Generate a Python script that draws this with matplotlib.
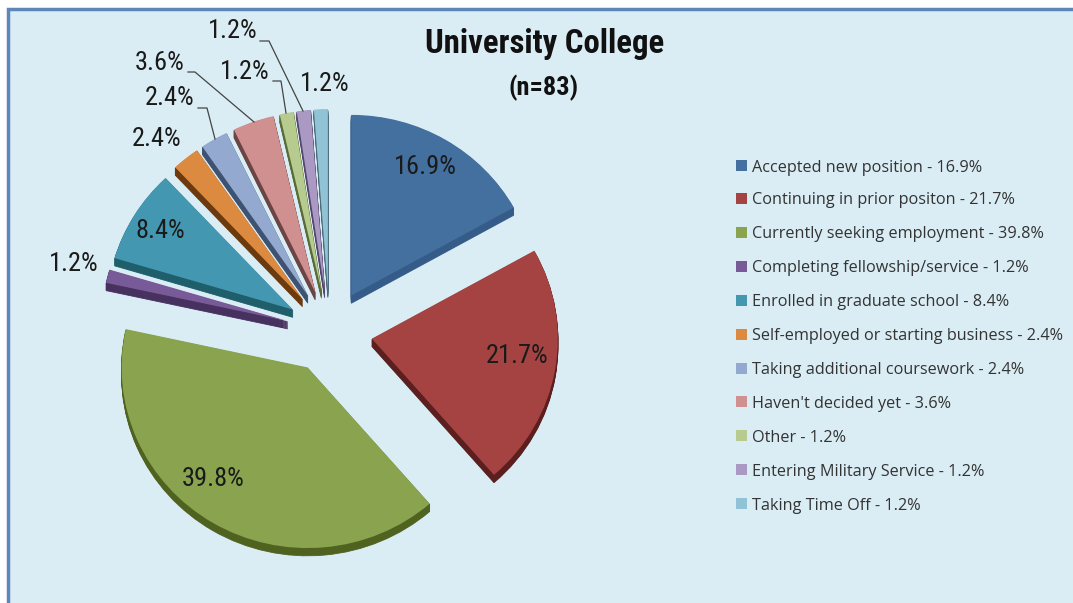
import matplotlib
matplotlib.use("Agg")
import matplotlib.pyplot as plt
from matplotlib.patches import Rectangle

# share of respondents per outcome
categories = ["Accepted new position", "Continuing in prior positon", "Currently seeking employment",
              "Completing fellowship/service", "Enrolled in graduate school",
              "Self-employed or starting business", "Taking additional coursework",
              "Haven't decided yet", "Other", "Entering Military Service", "Taking Time Off"]
values = [16.9, 21.7, 39.8, 1.2, 8.4, 2.4, 2.4, 3.6, 1.2, 1.2, 1.2]
colors = ["#44709F", "#A44342", "#89A34F", "#785A99", "#4497B0", "#DD8A41",
          "#94A9CF", "#D09090", "#B7CB8F", "#A999C3", "#90C3D5"]
sides = ["#355C88", "#5A1F1E", "#50621F", "#47315F", "#1F5F6C", "#6B3A0E",
         "#3E5272", "#6A4544", "#5A6B3A", "#55466C", "#4A6A78"]
title = "University College"
subtitle = "(n=83)"

W, H = 1073, 603
BG = "#DAEDF4"
NARROW = ["Roboto Condensed", "DejaVu Sans"]

fig = plt.figure(figsize=(W / 100, H / 100), dpi=100, facecolor="white")

# background and all text/legend, in pixel coordinates
ax = fig.add_axes([0, 0, 1, 1], zorder=0)
ax.set_xlim(0, W)
ax.set_ylim(0, H)
ax.axis("off")
ax.add_patch(Rectangle((8, -5), W, H - 4, fc=BG, ec="#5F86BA", lw=2.5, zorder=0))

# pie gets its own axes so it can be squashed a little (the 3D tilt)
tilt = 0.971
cx, cy_px, r = 329.5, 331.5, 186
pie_ax = fig.add_axes([0, 0, 1, 1], zorder=1)
pie_ax.patch.set_alpha(0)

# pie() adds explode in data units, here those are pixels
explode = [43] * len(values)

# fake 3D: stack of dark pies shifted downwards, then the top face
for d in range(8, 0, -1):
    wedges, _ = pie_ax.pie(values, colors=sides, explode=explode, startangle=90, counterclock=False,
                           center=(cx, -d), radius=r, frame=True)
    for w, c in zip(wedges, sides):
        w.set_edgecolor(c)
        w.set_linewidth(0.6)
pie_ax.pie(values, colors=colors, explode=explode, startangle=90, counterclock=False,
           center=(cx, 0), radius=r, frame=True, wedgeprops=dict(lw=0))

pie_ax.set_xlim(0, W)
pie_ax.set_ylim(-(H - cy_px) / tilt, cy_px / tilt)
pie_ax.set_aspect("auto")
pie_ax.axis("off")

# labels and leader lines go on top of the pie
top = fig.add_axes([0, 0, 1, 1], zorder=2)
top.patch.set_alpha(0)
top.set_xlim(0, W)
top.set_ylim(0, H)
top.axis("off")

labels = [("16.9%", 425, 167), ("21.7%", 517, 356), ("39.8%", 213, 479), ("1.2%", 74, 264),
          ("8.4%", 160, 231), ("2.4%", 157, 139), ("2.4%", 170, 98), ("3.6%", 160, 63),
          ("1.2%", 245, 72), ("1.2%", 233, 31), ("1.2%", 325, 84)]
for txt, x, y in labels:
    top.text(x, H - y, txt, ha="center", va="center", fontsize=19, family=NARROW, weight=400,
             color="#1A1A1A")

leaders = [[(188, 72), (195, 72), (254, 122)], [(273, 81), (281, 81), (286, 113)],
           [(198, 108), (207, 108), (215, 139)], [(260, 41), (269, 41), (303, 111)]]
for pts in leaders:
    top.plot([p[0] for p in pts], [H - p[1] for p in pts], color="#444444", lw=0.9)

top.text(545, H - 44, title, ha="center", va="center", fontsize=23.6, weight="bold", family=NARROW, color="#111111")
top.text(544, H - 88, subtitle, ha="center", va="center", fontsize=19, weight="bold", family=NARROW, color="#111111")

# legend
ys = [166, 199, 233, 267, 301, 335, 369, 402, 436, 470, 504]
for name, v, c, y in zip(categories, values, colors, ys):
    top.add_patch(Rectangle((736, H - y - 5), 11, 11, fc=c, ec="none"))
    top.text(752, H - y - 1.5, f"{name} - {v}%", ha="left", va="center", fontsize=11.68,
             family=["Open Sans", "DejaVu Sans"], color="#333333")

fig.savefig("out.png", dpi=100, facecolor="white")
